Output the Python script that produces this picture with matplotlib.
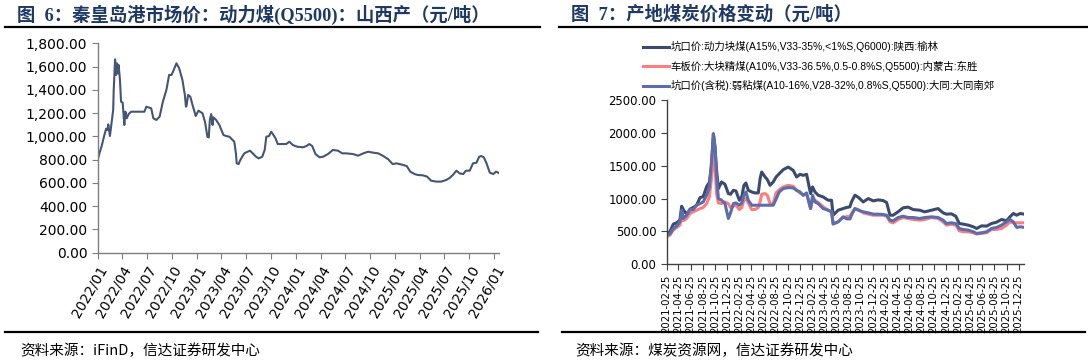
import matplotlib
matplotlib.use("Agg")
import matplotlib.pyplot as plt
import matplotlib.dates as mdates
import matplotlib.ticker as mticker
from matplotlib.lines import Line2D
import pandas as pd

plt.rcParams['font.family'] = ['DejaVu Sans', 'Noto Sans CJK SC']

# ---------------- data: left chart (秦皇岛港 动力煤 Q5500 山西产) ----------------
left_dates = ["2022-01-01", "2022-01-09", "2022-01-15", "2022-01-24", "2022-02-01", "2022-02-06",
              "2022-02-09", "2022-02-15", "2022-02-21", "2022-02-27", "2022-03-01", "2022-03-06",
              "2022-03-10", "2022-03-13", "2022-03-17", "2022-03-19", "2022-03-24", "2022-03-28",
              "2022-04-03", "2022-04-09", "2022-04-13", "2022-04-18", "2022-04-25", "2022-05-04",
              "2022-06-22", "2022-06-29", "2022-07-17", "2022-07-25", "2022-08-05", "2022-08-17",
              "2022-08-29", "2022-09-11", "2022-09-21", "2022-09-30", "2022-10-08", "2022-10-18",
              "2022-10-28", "2022-11-09", "2022-11-18", "2022-11-22", "2022-11-24", "2022-11-30",
              "2022-12-08", "2022-12-18", "2022-12-28", "2023-01-07", "2023-01-22", "2023-01-31",
              "2023-02-09", "2023-02-14", "2023-02-18", "2023-02-23", "2023-02-28", "2023-03-03",
              "2023-03-13", "2023-03-25", "2023-04-09", "2023-04-19", "2023-05-01", "2023-05-19",
              "2023-05-25", "2023-05-28", "2023-06-04", "2023-06-09", "2023-06-17", "2023-06-25",
              "2023-07-07", "2023-07-16", "2023-07-26", "2023-08-07", "2023-08-17", "2023-08-30",
              "2023-09-08", "2023-09-14", "2023-09-24", "2023-10-02", "2023-10-08", "2023-10-18",
              "2023-10-26", "2023-11-08", "2023-11-26", "2023-12-08", "2023-12-21", "2024-01-06",
              "2024-01-27", "2024-02-09", "2024-02-19", "2024-03-01", "2024-03-13", "2024-03-28",
              "2024-04-10", "2024-04-28", "2024-05-16", "2024-06-04", "2024-06-20", "2024-07-04",
              "2024-07-29", "2024-08-17", "2024-09-05", "2024-09-23", "2024-10-11", "2024-10-30",
              "2024-11-18", "2024-12-06", "2024-12-22", "2025-01-06", "2025-01-25", "2025-02-12",
              "2025-02-25", "2025-03-13", "2025-03-25", "2025-04-13", "2025-04-28", "2025-05-13",
              "2025-06-01", "2025-06-19", "2025-07-07", "2025-07-20", "2025-08-01", "2025-08-14",
              "2025-08-26", "2025-09-08", "2025-09-18", "2025-10-02", "2025-10-14", "2025-10-27",
              "2025-11-06", "2025-11-14", "2025-11-23", "2025-12-03", "2025-12-15", "2025-12-28",
              "2026-01-07", "2026-01-15", "2026-01-19"]
left_values = [797, 868, 911, 997, 1066, 1055,
               1103, 1003, 1112, 1227, 1399, 1662,
               1528, 1628, 1542, 1614, 1485, 1298,
               1290, 1098, 1212, 1155, 1192, 1212,
               1212, 1255, 1241, 1155, 1141, 1169,
               1298, 1399, 1528, 1528, 1571, 1628,
               1585, 1485, 1356, 1255, 1261, 1356,
               1341, 1255, 1175, 1221, 1198, 1126,
               997, 991, 1141, 1192, 1098, 1164,
               1141, 1098, 1012, 1003, 997, 954,
               854, 768, 762, 791, 825, 854,
               868, 877, 854, 825, 811, 825,
               883, 997, 1003, 1040, 1020, 983,
               934, 934, 934, 954, 925, 911,
               906, 917, 934, 917, 848, 820,
               825, 848, 883, 877, 854, 854,
               848, 834, 854, 868, 860, 854,
               831, 803, 762, 768, 757, 745,
               697, 676, 668, 665, 654, 619,
               611, 611, 625, 642, 668, 705,
               682, 676, 705, 705, 768, 774,
               825, 831, 820, 768, 688, 676,
               697, 688, 682]

# ---------------- data: right chart (产地煤炭价格) ----------------
right_dates = ["2021-02-25", "2021-03-13", "2021-03-30", "2021-04-16", "2021-05-02", "2021-05-11",
               "2021-05-19", "2021-06-05", "2021-06-22", "2021-07-08", "2021-07-25", "2021-08-11",
               "2021-08-27", "2021-09-13", "2021-09-27", "2021-10-08", "2021-10-17", "2021-10-25",
               "2021-11-02", "2021-11-11", "2021-11-27", "2021-12-14", "2021-12-31", "2022-01-11",
               "2022-01-25", "2022-02-07", "2022-02-24", "2022-03-08", "2022-03-19", "2022-03-29",
               "2022-04-10", "2022-04-27", "2022-05-13", "2022-05-30", "2022-06-08", "2022-06-16",
               "2022-07-03", "2022-07-14", "2022-07-28", "2022-08-13", "2022-08-27", "2022-09-12",
               "2022-10-02", "2022-10-27", "2022-11-21", "2022-12-08", "2022-12-25", "2023-01-10",
               "2023-01-27", "2023-02-09", "2023-02-16", "2023-02-26", "2023-03-10", "2023-03-26",
               "2023-04-20", "2023-05-15", "2023-06-01", "2023-06-09", "2023-07-04", "2023-07-29",
               "2023-08-15", "2023-09-01", "2023-09-09", "2023-09-26", "2023-10-13", "2023-11-07",
               "2023-12-02", "2023-12-27", "2024-01-21", "2024-02-15", "2024-03-03", "2024-03-20",
               "2024-04-05", "2024-04-30", "2024-05-25", "2024-06-19", "2024-07-14", "2024-08-16",
               "2024-09-10", "2024-10-14", "2024-11-16", "2024-12-11", "2024-12-28", "2025-01-22",
               "2025-02-13", "2025-03-02", "2025-03-22", "2025-04-16", "2025-05-11", "2025-05-28",
               "2025-06-22", "2025-07-17", "2025-08-11", "2025-09-05", "2025-09-30", "2025-10-25",
               "2025-11-11", "2025-11-28", "2025-12-15", "2026-01-01", "2026-01-22"]
yulin = [470, 495, 611, 631, 672, 884, 833, 760, 840, 864, 899, 1015,
         1030, 1180, 1250, 1500, 1985, 1783, 1429, 1152, 1253, 1217, 1076, 1066,
         1126, 1116, 975, 1025, 1202, 1237, 1126, 1101, 1086, 1086, 1303, 1404,
         1330, 1290, 1202, 1253, 1328, 1379, 1440, 1480, 1429, 1328, 1369, 1354,
         1369, 1177, 1076, 1177, 1101, 1051, 1025, 975, 975, 747, 823, 848,
         864, 875, 949, 1051, 1020, 949, 1000, 965, 980, 970, 940, 747,
         747, 800, 860, 870, 833, 823, 798, 823, 848, 783, 763, 768,
         730, 621, 611, 596, 571, 545, 585, 581, 621, 641, 682, 662,
         722, 773, 747, 773, 763]
dongsheng = [419, 444, 520, 561, 596, 722, 662, 697, 773, 798, 823, 848,
             864, 924, 1025, 1328, 1682, 1480, 1076, 934, 924, 949, 924, 864,
             884, 899, 833, 864, 975, 1000, 934, 833, 833, 864, 950, 1066,
             1076, 1051, 924, 924, 1086, 1136, 1177, 1202, 1187, 1126, 1086, 1051,
             1066, 949, 848, 975, 975, 940, 874, 823, 798, 621, 646, 712,
             725, 732, 773, 848, 833, 783, 763, 747, 747, 747, 732, 646,
             631, 682, 712, 697, 682, 672, 682, 712, 697, 646, 596, 611,
             596, 510, 495, 495, 480, 460, 470, 480, 530, 530, 545, 596,
             646, 631, 631, 631, 631]
datong = [444, 460, 545, 581, 646, 823, 697, 747, 833, 833, 899, 924,
          949, 1051, 1177, 1581, 1985, 1783, 1328, 1000, 975, 924, 697, 783,
          924, 934, 899, 934, 1051, 1101, 975, 899, 899, 899, 899, 899,
          899, 899, 899, 899, 990, 1101, 1152, 1167, 1162, 1126, 1101, 1051,
          1086, 924, 848, 1051, 949, 924, 848, 823, 798, 611, 646, 722,
          692, 690, 747, 848, 823, 798, 783, 763, 763, 758, 747, 672,
          662, 712, 732, 712, 712, 697, 712, 722, 712, 672, 621, 631,
          621, 545, 530, 520, 495, 470, 480, 495, 545, 561, 596, 646,
          682, 646, 561, 571, 561]

legend_labels = ["坑口价:动力块煤(A15%,V33-35%,<1%S,Q6000):陕西:榆林",
                 "车板价:大块精煤(A10%,V33-36.5%,0.5-0.8%S,Q5500):内蒙古:东胜",
                 "坑口价(含税):弱粘煤(A10-16%,V28-32%,0.8%S,Q5500):大同:大同南郊"]

title_left = "图  6：秦皇岛港市场价：动力煤(Q5500)：山西产（元/吨）"
title_right = "图  7：产地煤炭价格变动（元/吨）"
source_left = "资料来源：iFinD，信达证券研发中心"
source_right = "资料来源：煤炭资源网，信达证券研发中心"

# ---------------- figure ----------------
W, H = 1088, 363
fig = plt.figure(figsize=(W / 100, H / 100), dpi=100)

def fx(px):
    return px / W

def fy(py):
    return 1 - py / H

title_color = "#1F3864"
title_font = ['Liberation Serif', 'Noto Sans CJK SC']
fig.text(fx(17), fy(15), title_left, fontsize=13.2, fontweight='bold', color=title_color,
         family=title_font, va='center', ha='left')
fig.text(fx(571), fy(15), title_right, fontsize=13.2, fontweight='bold', color=title_color,
         family=title_font, va='center', ha='left')

# rules
for (x0, x1) in [(5, 540), (559, 1088)]:
    fig.add_artist(Line2D([fx(x0), fx(x1)], [fy(27), fy(27)], color='black', lw=1.6,
                          transform=fig.transFigure))
for (x0, x1) in [(5, 538), (562, 1085)]:
    fig.add_artist(Line2D([fx(x0), fx(x1)], [fy(332), fy(332)], color='black', lw=1.6,
                          transform=fig.transFigure))

src_font = ['Noto Sans CJK SC', 'DejaVu Sans']
fig.text(fx(20), fy(351), source_left, fontsize=10.5, family=src_font, va='center', ha='left',
         color='black')
fig.text(fx(575), fy(351), source_right, fontsize=10.5, family=src_font, va='center', ha='left',
         color='black')

# ---------------- left axes ----------------
ax1 = fig.add_axes([fx(97.7), fy(252.7), fx(499.3 - 97.7), (252.7 - 43.3) / H])
ld = pd.to_datetime(left_dates)
ax1.plot(ld, left_values, color="#465574", lw=1.5)
ax1.set_ylim(0, 1800)
ax1.set_xlim(pd.Timestamp("2022-01-01"), ld[-1])
ax1.yaxis.set_major_locator(mticker.MultipleLocator(200))
ax1.yaxis.set_major_formatter(mticker.FuncFormatter(lambda v, p: f"{v:,.2f}"))
ax1.xaxis.set_major_locator(mdates.MonthLocator(bymonth=[1, 4, 7, 10]))
ax1.xaxis.set_major_formatter(mdates.DateFormatter("%Y/%m"))
for s in ['top', 'right']:
    ax1.spines[s].set_visible(False)
for s in ['left', 'bottom']:
    ax1.spines[s].set_color('#7f7f7f')
    ax1.spines[s].set_linewidth(1.0)
ax1.tick_params(axis='both', direction='out', length=4, color='#7f7f7f', labelsize=10,
                labelcolor='black')
plt.setp(ax1.get_xticklabels(), rotation=60, ha='right', rotation_mode='anchor')

# ---------------- right axes ----------------
ax2 = fig.add_axes([fx(666.7), fy(264.3), fx(1024.3 - 666.7), (264.3 - 100) / H])
rd = pd.to_datetime(right_dates)
colors = ["#3C4A6E", "#FF7C80", "#5B6DAB"]
lines = []
for vals, c in zip([yulin, dongsheng, datong], colors):
    ln, = ax2.plot(rd, vals, color=c, lw=2.2)
    lines.append(ln)
ax2.set_ylim(0, 2500)
ax2.set_xlim(pd.Timestamp("2021-02-25"), rd[-1])
ax2.yaxis.set_major_locator(mticker.MultipleLocator(500))
ax2.yaxis.set_major_formatter(mticker.FuncFormatter(lambda v, p: f"{v:.2f}"))
ax2.xaxis.set_major_locator(mdates.MonthLocator(bymonth=[2, 4, 6, 8, 10, 12], bymonthday=25))
ax2.xaxis.set_major_formatter(mdates.DateFormatter("%Y-%m-%d"))
for s in ['top', 'right']:
    ax2.spines[s].set_visible(False)
for s in ['left', 'bottom']:
    ax2.spines[s].set_color('#404040')
    ax2.spines[s].set_linewidth(1.0)
ax2.tick_params(axis='y', direction='out', length=4, labelsize=8.4, color='#404040')
ax2.tick_params(axis='x', direction='out', length=4, labelsize=7.3, color='#404040',
                labelrotation=90)

leg = fig.legend(lines, legend_labels, loc='upper left',
                 bbox_to_anchor=(fx(643), fy(41)), frameon=False, borderpad=0,
                 borderaxespad=0, handlelength=2.5, handletextpad=0.15, labelspacing=0.8,
                 prop={'family': ['Liberation Sans', 'Noto Sans CJK SC'], 'size': 7.5})

fig.savefig("out.png", dpi=100)
